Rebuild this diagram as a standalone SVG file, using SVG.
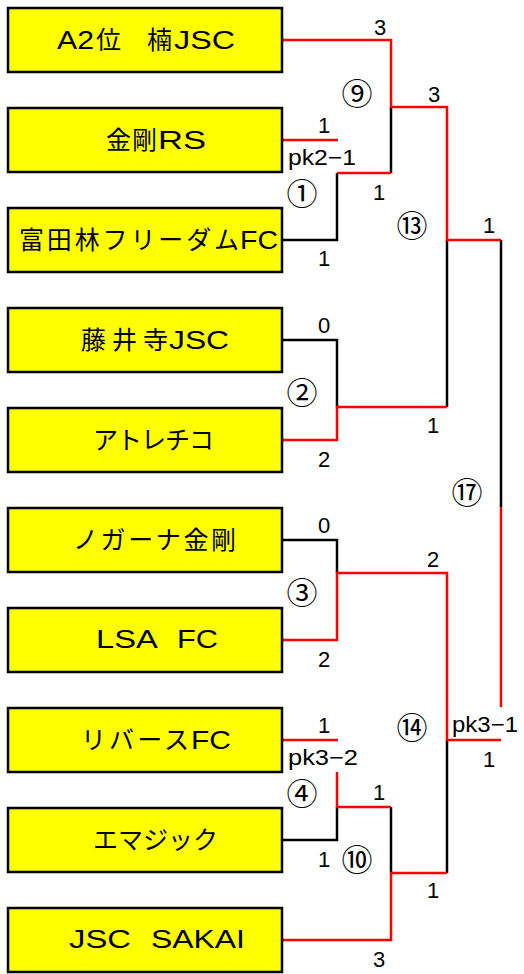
<svg xmlns="http://www.w3.org/2000/svg" width="524" height="974" viewBox="0 0 524 974">
<style>
.box{fill:#FFFF00;stroke:#000;stroke-width:2.5}
.name{font-family:"Liberation Sans","Noto Sans CJK JP",sans-serif;font-size:25px;fill:#000}
.sc{font-family:"Liberation Sans","Noto Sans CJK JP",sans-serif;font-size:22px;fill:#000;text-anchor:middle}
.pk{font-family:"Liberation Sans","Noto Sans CJK JP",sans-serif;font-size:22px;fill:#000}
.mn{font-family:"Noto Sans CJK JP",sans-serif;font-size:31px;fill:#000;text-anchor:middle}
.bk{fill:none;stroke:#000;stroke-width:2.5}
.rd{fill:none;stroke:#FF0000;stroke-width:2.5}
</style>
<g id="connectors">
<path class="bk" d="M283,240 H337 V173"/>
<path class="bk" d="M391,173 V107"/>
<path class="bk" d="M283,340 H337 V407"/>
<path class="bk" d="M447,240 V407"/>
<path class="bk" d="M501,240 V507"/>
<path class="bk" d="M283,540 H337 V573"/>
<path class="bk" d="M447,740 V873"/>
<path class="bk" d="M283,840 H337 V807"/>
<path class="bk" d="M391,807 V873"/>
<path class="rd" d="M283,40 H391 V107 H447 V240 H501"/>
<path class="rd" d="M283,140 H338"/>
<path class="rd" d="M337,173 H391"/>
<path class="rd" d="M283,440 H337 V407 H447"/>
<path class="rd" d="M501,507 V707"/>
<path class="rd" d="M283,640 H337 V573 H447 V740 H501"/>
<path class="rd" d="M283,740 H338"/>
<path class="rd" d="M337,772 V807 H391"/>
<path class="rd" d="M283,940 H391 V873 H447"/>
</g>
<g id="team1"><rect class="box" x="8" y="8" width="274" height="64"/><text class="name" y="49"><tspan x="57" textLength="37" lengthAdjust="spacingAndGlyphs">A2</tspan><tspan x="96">位　</tspan><tspan x="147">楠</tspan><tspan x="174" textLength="61" lengthAdjust="spacingAndGlyphs">JSC</tspan></text></g>
<g id="team2"><rect class="box" x="8" y="108" width="274" height="64"/><text class="name" y="149"><tspan x="106" textLength="51">金剛</tspan><tspan x="158" textLength="48" lengthAdjust="spacingAndGlyphs">RS</tspan></text></g>
<g id="team3"><rect class="box" x="8" y="208" width="274" height="64"/><text class="name" y="249"><tspan x="19" textLength="220">富田林フリーダム</tspan><tspan x="240" textLength="38" lengthAdjust="spacingAndGlyphs">FC</tspan></text></g>
<g id="team4"><rect class="box" x="8" y="308" width="274" height="64"/><text class="name" y="349"><tspan x="81" textLength="87">藤井寺</tspan><tspan x="169" textLength="60" lengthAdjust="spacingAndGlyphs">JSC</tspan></text></g>
<g id="team5"><rect class="box" x="8" y="408" width="274" height="64"/><text class="name" y="449"><tspan x="93" textLength="121">アトレチコ</tspan></text></g>
<g id="team6"><rect class="box" x="8" y="508" width="274" height="64"/><text class="name" y="549"><tspan x="73" textLength="163">ノガーナ金剛</tspan></text></g>
<g id="team7"><rect class="box" x="8" y="608" width="274" height="64"/><text class="name" y="648"><tspan x="96" textLength="60" lengthAdjust="spacingAndGlyphs">LSA</tspan><tspan>　</tspan><tspan x="177" textLength="41" lengthAdjust="spacingAndGlyphs">FC</tspan></text></g>
<g id="team8"><rect class="box" x="8" y="708" width="274" height="64"/><text class="name" y="749"><tspan x="81" textLength="108">リバース</tspan><tspan x="191" textLength="40" lengthAdjust="spacingAndGlyphs">FC</tspan></text></g>
<g id="team9"><rect class="box" x="8" y="808" width="274" height="64"/><text class="name" y="849"><tspan x="93" textLength="125">エマジック</tspan></text></g>
<g id="team10"><rect class="box" x="8" y="908" width="274" height="64"/><text class="name" y="948"><tspan x="69" textLength="62" lengthAdjust="spacingAndGlyphs">JSC</tspan><tspan>　</tspan><tspan x="151" textLength="94" lengthAdjust="spacingAndGlyphs">SAKAI</tspan></text></g>
<g id="labels">
<text class="sc" x="380" y="35">3</text>
<text class="mn" x="357" y="105">⑨</text>
<text class="sc" x="434" y="102">3</text>
<text class="sc" x="324" y="133">1</text>
<text class="pk" x="288" y="165" textLength="68" lengthAdjust="spacingAndGlyphs">pk2−1</text>
<text class="mn" x="302" y="205">①</text>
<text class="sc" x="379" y="200">1</text>
<text class="mn" x="412" y="237">⑬</text>
<text class="sc" x="489" y="233">1</text>
<text class="sc" x="324" y="266">1</text>
<text class="sc" x="324" y="333">0</text>
<text class="mn" x="302" y="404">②</text>
<text class="sc" x="433" y="433">1</text>
<text class="sc" x="324" y="467">2</text>
<text class="mn" x="467" y="504">⑰</text>
<text class="sc" x="324" y="533">0</text>
<text class="sc" x="433" y="567">2</text>
<text class="mn" x="302" y="604">③</text>
<text class="sc" x="324" y="667">2</text>
<text class="sc" x="324" y="733">1</text>
<text class="mn" x="412" y="739">⑭</text>
<text class="pk" x="452" y="732" textLength="66" lengthAdjust="spacingAndGlyphs">pk3−1</text>
<text class="sc" x="489" y="767">1</text>
<text class="pk" x="288" y="765" textLength="70" lengthAdjust="spacingAndGlyphs">pk3−2</text>
<text class="mn" x="302" y="805">④</text>
<text class="sc" x="379" y="800">1</text>
<text class="sc" x="324" y="867">1</text>
<text class="mn" x="357" y="871">⑩</text>
<text class="sc" x="433" y="898">1</text>
<text class="sc" x="379" y="967">3</text>
</g>
</svg>
